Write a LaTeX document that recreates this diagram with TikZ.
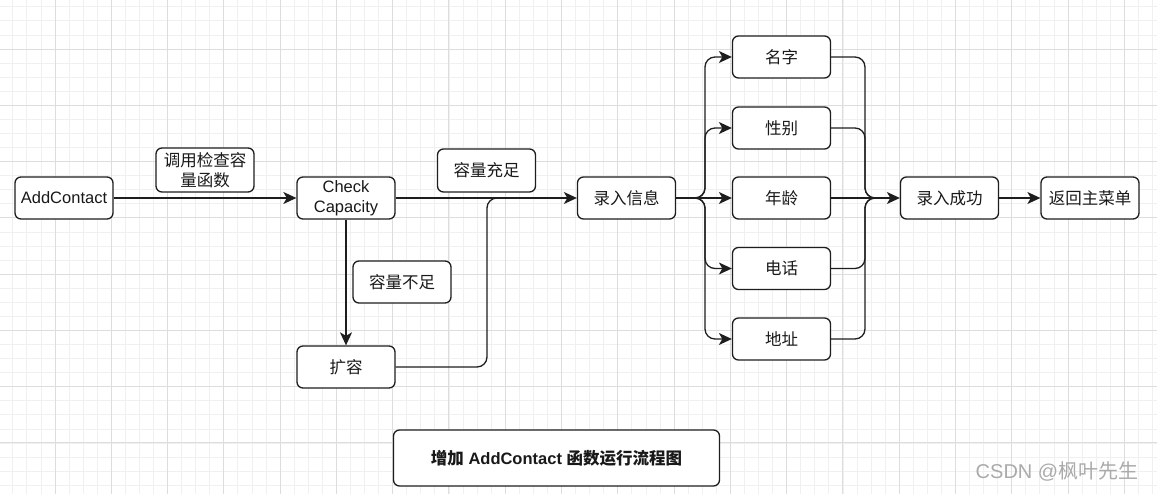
\documentclass[tikz,border=0pt]{standalone}
\usepackage{fontspec}
\setmainfont{Liberation Sans}
\newfontfamily\cjk{Noto Sans CJK SC}
\usetikzlibrary{arrows.meta}
\definecolor{gridminor}{HTML}{F0F0F0}
\definecolor{gridmajor}{HTML}{DDDDDD}
\definecolor{edge}{HTML}{1E1E1E}
\definecolor{wm}{HTML}{AAAAAA}
\tikzset{
  box/.style={draw=edge, line width=1.3pt, rounded corners=6pt, fill=white,
    minimum width=98pt, minimum height=42pt, inner sep=2pt, align=center,
    font=\fontsize{16.5}{20}\selectfont, text=black!90},
  link/.style={draw=edge, line width=1.3pt},
  arr/.style={link, -{Stealth[length=13pt,width=12pt,inset=3.5pt]}},
  roundbend/.style={rounded corners=10pt}
}
\begin{document}
\begin{tikzpicture}[x=1pt,y=-1pt]
\useasboundingbox (0,0) rectangle (1157,494);
\fill[white] (0,0) rectangle (1157,494);
% grid
\foreach \i in {0,...,83} {
  \pgfmathsetmacro\xx{-1.3+14.07*\i}
  \draw[gridminor, line width=0.8pt] (\xx,0) -- (\xx,494);
}
\foreach \i in {0,...,35} {
  \pgfmathsetmacro\yy{6.8+14.07*\i}
  \draw[gridminor, line width=0.8pt] (0,\yy) -- (1157,\yy);
}
\foreach \i in {0,...,20} {
  \pgfmathsetmacro\xx{-1.3+56.28*\i}
  \draw[gridmajor, line width=0.9pt] (\xx,0) -- (\xx,494);
}
\foreach \i in {0,...,8} {
  \pgfmathsetmacro\yy{-7.3+56.28*\i}
  \draw[gridmajor, line width=0.9pt] (0,\yy) -- (1157,\yy);
}
% nodes
\node[box] (add) at (64,198) {AddContact};
\node[box, minimum height=44pt] (call) at (205,170) {\cjk 调用检查容\\\cjk 量函数};
\node[box] (check) at (346,198) {Check\\Capacity};
\node[box, minimum height=43pt] (full) at (486.5,170.5) {\cjk 容量充足};
\node[box] (rec) at (626.5,198) {\cjk 录入信息};
\node[box] (short) at (402,282) {\cjk 容量不足};
\node[box] (exp) at (346,367) {\cjk 扩容};
\node[box] (n1) at (781.5,57) {\cjk 名字};
\node[box] (n2) at (781.5,128) {\cjk 性别};
\node[box] (n3) at (781.5,198) {\cjk 年龄};
\node[box] (n4) at (781.5,268.5) {\cjk 电话};
\node[box] (n5) at (781.5,339) {\cjk 地址};
\node[box] (ok) at (949.5,198) {\cjk 录入成功};
\node[box] (back) at (1090,198) {\cjk 返回主菜单};
\node[box, minimum width=326pt, minimum height=56pt] (title) at (556.5,458)
  {{\cjk\bfseries 增加} \textbf{AddContact} {\cjk\bfseries 函数运行流程图}};
\node[text=wm, font=\fontsize{20}{24}\selectfont, inner sep=0pt] (wmark) at (1057,471)
  {CSDN @{\cjk 枫叶先生}};
% junction coordinates
\coordinate (j1) at (487,198);
\coordinate (s) at (705,198);
\coordinate (m) at (865,198);
% connectors
\draw[arr] (add) -- (check);
\draw[arr] (check) -- (rec);
\draw[arr] (check) -- (exp);
\draw[link, roundbend] (exp.east) -| (j1) -- ([xshift=12pt]j1);
\draw[arr, roundbend] (rec.east) -- (s) |- (n1.west);
\draw[arr, roundbend] (rec.east) -- (s) |- (n2.west);
\draw[arr] (rec.east) -- (n3.west);
\draw[arr, roundbend] (rec.east) -- (s) |- (n4.west);
\draw[arr, roundbend] (rec.east) -- (s) |- (n5.west);
\draw[link, roundbend] (n1.east) -| (m) -- ([xshift=12pt]m);
\draw[link, roundbend] (n2.east) -| (m) -- ([xshift=12pt]m);
\draw[link, roundbend] (n4.east) -| (m) -- ([xshift=12pt]m);
\draw[link, roundbend] (n5.east) -| (m) -- ([xshift=12pt]m);
\draw[arr] (n3.east) -- (ok.west);
\draw[arr] (ok) -- (back);
\end{tikzpicture}
\end{document}
